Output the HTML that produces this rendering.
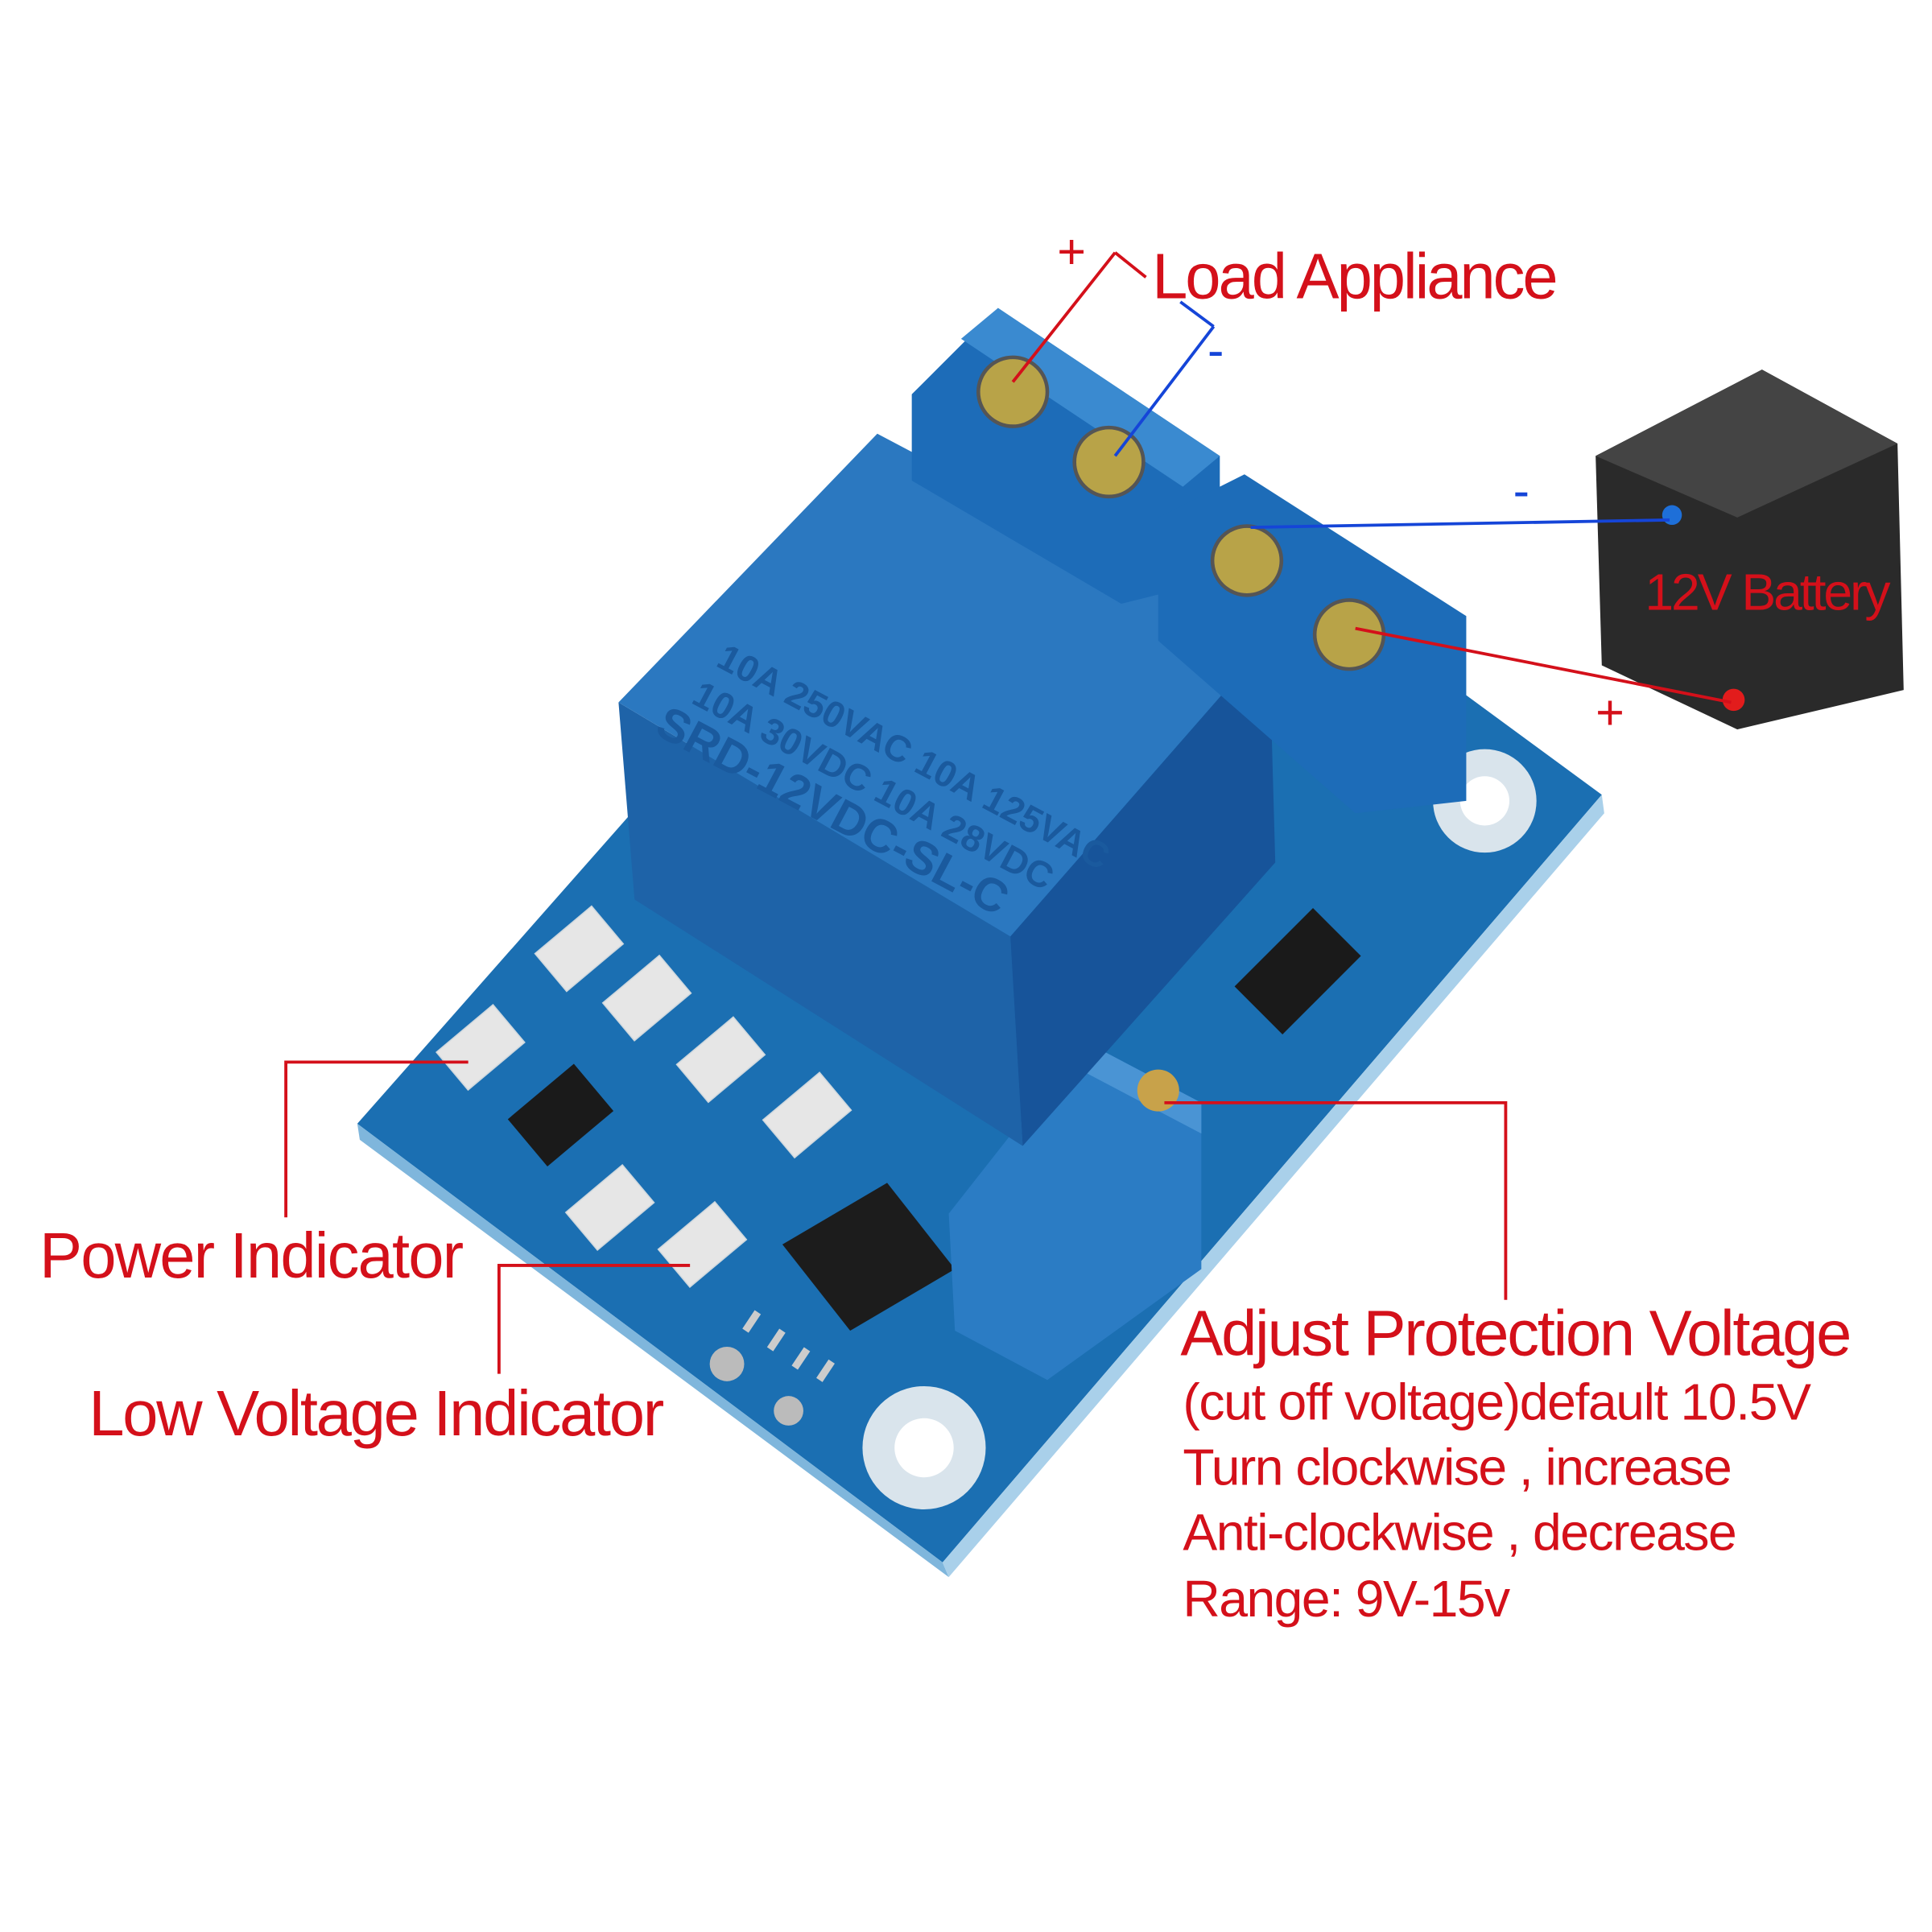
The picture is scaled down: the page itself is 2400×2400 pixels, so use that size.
<!DOCTYPE html>
<html><head><meta charset="utf-8"><style>html,body{margin:0;padding:0;background:#fff}svg{display:block}</style></head>
<body>
<svg width="2400" height="2400" viewBox="0 0 1568 1568" xmlns="http://www.w3.org/2000/svg" font-family="Liberation Sans, sans-serif">
<rect width="1568" height="1568" fill="#fff"/>
<polygon points="290,912 765,1268 1300,645 830,300" fill="#1b6fb2"/>
<polygon points="290,912 765,1268 770,1280 292,925" fill="#7fb6dc"/>
<polygon points="765,1268 1300,645 1302,660 770,1280" fill="#a9d0ea"/>
<circle cx="1205" cy="650" r="42" fill="#d9e4ec"/><circle cx="1205" cy="650" r="20" fill="#fff"/>
<circle cx="750" cy="1175" r="50" fill="#d9e4ec"/><circle cx="750" cy="1175" r="24" fill="#fff"/>
<g fill="#e6e6e6" stroke="#cfd8de">
<rect x="440" y="750" width="60" height="40" transform="rotate(-40 470 770)"/>
<rect x="495" y="790" width="60" height="40" transform="rotate(-40 525 810)"/>
<rect x="555" y="840" width="60" height="40" transform="rotate(-40 585 860)"/>
<rect x="625" y="885" width="60" height="40" transform="rotate(-40 655 905)"/>
<rect x="360" y="830" width="60" height="40" transform="rotate(-40 390 850)"/>
<rect x="465" y="960" width="60" height="40" transform="rotate(-40 495 980)"/>
<rect x="540" y="990" width="60" height="40" transform="rotate(-40 570 1010)"/>
</g>
<rect x="420" y="880" width="70" height="50" fill="#1a1a1a" transform="rotate(-40 455 905)"/>
<rect x="1010" y="760" width="90" height="55" fill="#1a1a1a" transform="rotate(-45 1055 790)"/>
<polygon points="635,1010 720,960 775,1030 690,1080" fill="#1c1c1c"/>
<g stroke="#ccc" stroke-width="6"><line x1="615" y1="1065" x2="605" y2="1080"/><line x1="635" y1="1080" x2="625" y2="1095"/><line x1="655" y1="1095" x2="645" y2="1110"/><line x1="675" y1="1105" x2="665" y2="1120"/></g>
<circle cx="590" cy="1107" r="14" fill="#bbb"/><circle cx="640" cy="1145" r="12" fill="#bbb"/>
<polygon points="770,985 880,845 975,895 975,1030 850,1120 775,1080" fill="#2b7cc4"/>
<polygon points="880,845 975,895 975,920 880,870" fill="#4a94d4"/>
<circle cx="940" cy="885" r="17" fill="#c8a24a"/>
<polygon points="502,570 820,760 830,930 515,730" fill="#1e63a8"/>
<polygon points="820,760 1030,520 1035,700 830,930" fill="#17549a"/>
<polygon points="502,570 712,352 1030,520 820,760" fill="#2b78c0"/>
<text x="0" y="0" fill="#1a5a9e" font-size="30" font-weight="bold" transform="translate(580,540) rotate(28)">10A 250VAC 10A 125VAC</text>
<text x="0" y="0" fill="#1a5a9e" font-size="30" font-weight="bold" transform="translate(560,570) rotate(28)">10A 30VDC 10A 28VDC</text>
<text x="0" y="0" fill="#1a5a9e" font-size="38" font-weight="bold" transform="translate(530,595) rotate(28)">SRD-12VDC-SL-C</text>
<polygon points="740,320 810,250 990,370 990,470 910,490 740,390" fill="#1d6cb8"/>
<polygon points="940,420 1010,385 1190,500 1190,650 1100,660 940,520" fill="#1d6cb8"/>
<polygon points="810,250 990,370 960,395 780,275" fill="#3a8ad0"/>
<g fill="#b8a348" stroke="#555" stroke-width="3">
<circle cx="822" cy="318" r="28"/><circle cx="900" cy="375" r="28"/><circle cx="1012" cy="455" r="28"/><circle cx="1095" cy="515" r="28"/></g>
<polygon points="1295,370 1430,300 1540,360 1545,560 1410,592 1300,540" fill="#2a2a2a"/>
<polygon points="1295,370 1430,300 1540,360 1410,420" fill="#444"/>
<circle cx="1357" cy="418" r="8" fill="#1e6fd8"/><circle cx="1407" cy="568" r="9" fill="#e21c1c"/>
<g fill="none" stroke-width="2.5">
<polyline stroke="#d4101a" points="905,205 822,310"/>
<polyline stroke="#d4101a" points="905,205 930,225"/>
<polyline stroke="#1545d8" points="985,265 905,370"/>
<polyline stroke="#1545d8" points="958,245 985,265"/>
<polyline stroke="#1545d8" points="1355,422 1015,428"/>
<polyline stroke="#d4101a" points="1100,510 1405,570"/>
<polyline stroke="#d4101a" points="232,988 232,862 380,862"/>
<polyline stroke="#d4101a" points="405,1115 405,1027 560,1027"/>
<polyline stroke="#d4101a" points="1222,1055 1222,895 945,895"/>
</g>
<g fill="#d4101a" font-size="40">
<text x="858" y="218">+</text><text x="1295" y="592">+</text></g>
<g fill="#1545d8" font-size="40"><text x="980" y="298">-</text><text x="1228" y="412">-</text></g>
<g fill="#d4101a">
<text x="935" y="242" font-size="52" letter-spacing="-2">Load Appliance</text>
<text x="1335" y="495" font-size="42" letter-spacing="-2">12V Battery</text>
<text x="32" y="1037" font-size="52" letter-spacing="-1.2">Power Indicator</text>
<text x="72" y="1165" font-size="52" letter-spacing="-1.5">Low Voltage Indicator</text>
<text x="958" y="1100" font-size="52" letter-spacing="-1.5">Adjust Protection Voltage</text>
<text x="960" y="1152" font-size="42" letter-spacing="-0.9">(cut off voltage)default 10.5V</text>
<text x="960" y="1205" font-size="42" letter-spacing="-1">Turn clockwise , increase</text>
<text x="960" y="1258" font-size="42" letter-spacing="-1">Anti-clockwise , decrease</text>
<text x="960" y="1312" font-size="42" letter-spacing="-1">Range: 9V-15v</text>
</g>
</svg>
</body></html>
